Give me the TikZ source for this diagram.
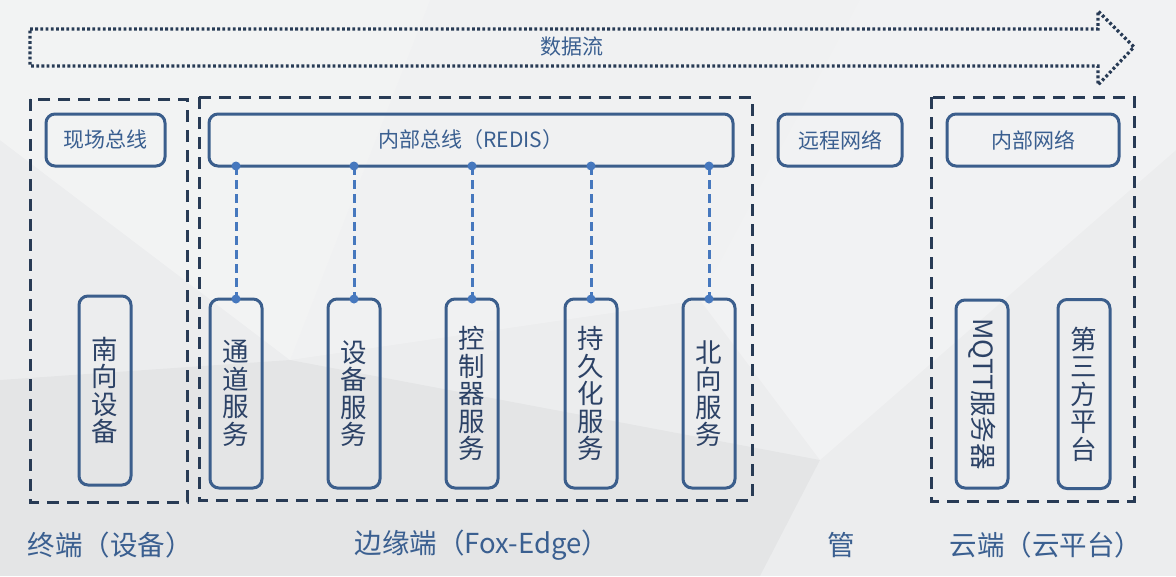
\documentclass[tikz,border=0pt]{standalone}
\usepackage{fontspec}
\newfontfamily\cjk{Noto Sans CJK SC}
\definecolor{bgc}{HTML}{ECEDEE}
\definecolor{boxc}{HTML}{3B5E8C}
\definecolor{framec}{HTML}{283B55}
\definecolor{dotc}{HTML}{4678BE}
\definecolor{labc}{HTML}{3A5F90}
\definecolor{svcc}{HTML}{2C4266}
\tikzset{
  frame/.style={draw=framec, line width=3pt, dash pattern=on 12pt off 8pt},
  flow/.style={draw=framec, line width=3.2pt, dash pattern=on 2.8pt off 2.4pt},
  bar/.style={draw=boxc, line width=3pt, rounded corners=9pt, outer sep=0pt,
    inner sep=0pt, minimum height=52pt, text=labc, font=\cjk\fontsize{21}{21}\selectfont},
  svcbox/.style={draw=boxc, line width=3pt, rounded corners=9pt, outer sep=0pt,
    inner sep=0pt, minimum width=52pt, minimum height=189pt, align=center,
    text=svcc, font=\cjk\fontsize{26.5}{27.5}\selectfont},
  link/.style={draw=dotc, line width=3pt, dash pattern=on 9pt off 5pt},
  lab/.style={text=labc, font=\cjk\fontsize{27.5}{27.5}\selectfont, inner sep=0pt}
}
\begin{document}
\begin{tikzpicture}[x=1pt,y=-1pt]
  % background
  \fill[bgc] (0,0) rectangle (1176,576);
  \useasboundingbox (0,0) rectangle (1176,576);
  \fill[white, opacity=0.35] (0,0) -- (430,0) -- (290,360) -- (0,140) -- cycle;
  \fill[white, opacity=0.25] (430,0) -- (860,0) -- (700,300) -- (290,360) -- cycle;
  \fill[black, opacity=0.03] (0,380) -- (290,360) -- (820,460) -- (760,576) -- (0,576) -- cycle;
  \fill[white, opacity=0.3] (860,0) -- (1176,0) -- (1176,150) -- (820,460) -- (700,300) -- cycle;

  % data flow arrow
  \draw[flow] (30,29) -- (1098,29) -- (1098,11) -- (1134,47) -- (1098,85) -- (1098,66) -- (30,66) -- cycle;
  \node[lab, font=\cjk\fontsize{21}{21}\selectfont] (flowtext) at (572,47) {数据流};

  % zones
  \draw[frame] (30,99) rectangle (187,502);
  \draw[frame] (199,97) rectangle (752,500);
  \draw[frame] (931,97) rectangle (1134,501);

  % buses
  \node[bar, minimum width=119pt] (fieldbus) at (105.5,140) {现场总线};
  \node[bar, minimum width=524pt] (redis) at (471,140) {内部总线（REDIS）};
  \node[bar, minimum width=124pt] (remote) at (840,140) {远程网络};
  \node[bar, minimum width=172pt] (intranet) at (1033,140) {内部网络};

  % devices and services
  \node[svcbox] (south) at (105,390.5) {南\\向\\设\\备};
  \foreach \x/\n/\t in {236/chan/{通\\道\\服\\务}, 354/dev/{设\\备\\服\\务},
      472/ctrl/{控\\制\\器\\服\\务}, 591/store/{持\\久\\化\\服\\务}, 709/north/{北\\向\\服\\务}} {
    \node[svcbox] (\n) at (\x,393.5) {\t};
    \draw[link] (redis.south -| \n.north) -- (\n.north);
    \fill[dotc] (redis.south -| \n.north) circle (4.5);
    \fill[dotc] (\n.north) circle (4.5);
  }

  % cloud
  \node[svcbox, rotate=-90, minimum width=188pt, minimum height=52pt] (mqtt) at (982,394) {MQTT服务器};
  \node[svcbox] (third) at (1084,394) {第\\三\\方\\平\\台};

  % captions
  \node[lab] (termlab) at (110,545) {终端（设备）};
  \node[lab] (edgelab) at (482,545) {边缘端（Fox-Edge）};
  \node[lab] (pipelab) at (841,545) {管};
  \node[lab] (cloudlab) at (1046,545) {云端（云平台）};
\end{tikzpicture}
\end{document}
